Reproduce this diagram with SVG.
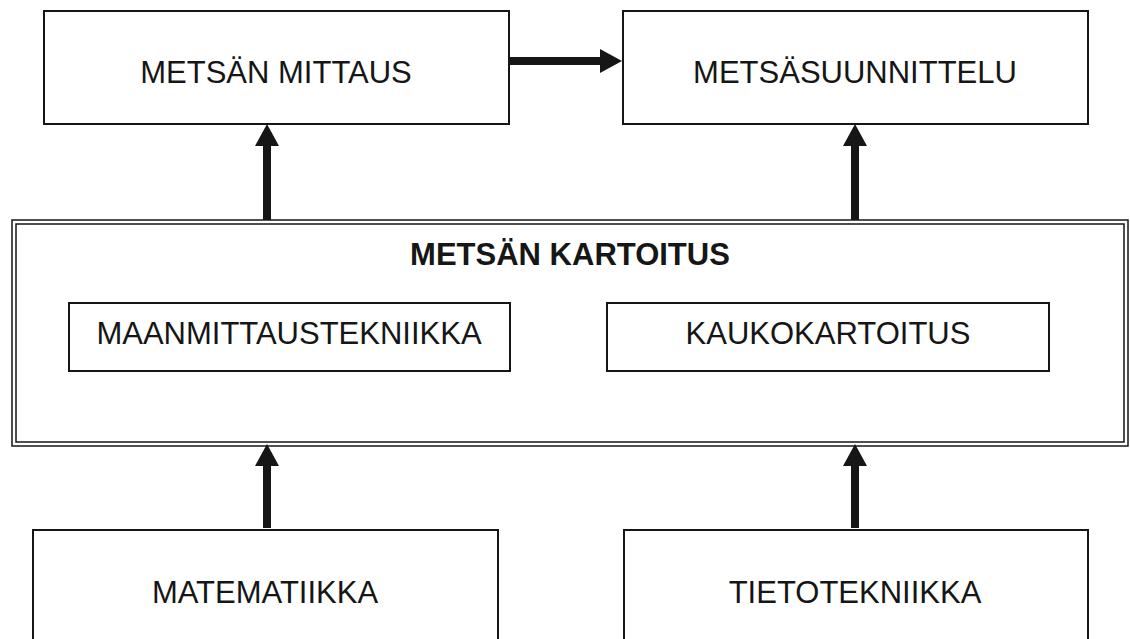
<svg xmlns="http://www.w3.org/2000/svg" width="1130" height="639" viewBox="0 0 1130 639">
  <style>
    .box { fill: #ffffff; stroke: #161616; stroke-width: 2; }
    .frame { fill: none; stroke: #161616; stroke-width: 1.5; }
    .lbl { font-family: "Liberation Sans", Arial, sans-serif; font-size: 31px; fill: #161616; text-anchor: middle; }
    .title { font-weight: bold; }
    .conn { stroke: #161616; stroke-width: 8; fill: none; marker-end: url(#head); }
  </style>
  <defs>
    <marker id="head" viewBox="0 0 22 24" refX="0" refY="12" markerWidth="22" markerHeight="24" markerUnits="userSpaceOnUse" orient="auto">
      <path d="M0,0 L22,12 L0,24 Z" fill="#161616"/>
    </marker>
  </defs>
  <rect width="1130" height="639" fill="#ffffff"/>

  <g id="metsan-mittaus">
    <rect class="box" x="44" y="11" width="465" height="113"/>
    <text class="lbl" x="276" y="83">METSÄN MITTAUS</text>
  </g>
  <g id="metsasuunnittelu">
    <rect class="box" x="623" y="11" width="465" height="113"/>
    <text class="lbl" x="855" y="83">METSÄSUUNNITTELU</text>
  </g>
  <g id="metsan-kartoitus">
    <rect class="frame" x="12" y="220" width="1116" height="226"/>
    <rect class="frame" x="16" y="224" width="1108" height="218"/>
    <text class="lbl title" x="570" y="265">METSÄN KARTOITUS</text>
  </g>
  <g id="maanmittaustekniikka">
    <rect class="box" x="69" y="303" width="441" height="68"/>
    <text class="lbl" x="289" y="344">MAANMITTAUSTEKNIIKKA</text>
  </g>
  <g id="kaukokartoitus">
    <rect class="box" x="607" y="303" width="442" height="68"/>
    <text class="lbl" x="828" y="344">KAUKOKARTOITUS</text>
  </g>
  <g id="matematiikka">
    <rect class="box" x="33" y="530" width="465" height="120"/>
    <text class="lbl" x="265" y="603">MATEMATIIKKA</text>
  </g>
  <g id="tietotekniikka">
    <rect class="box" x="624" y="530" width="464" height="120"/>
    <text class="lbl" x="855" y="603">TIETOTEKNIIKKA</text>
  </g>

  <g id="connectors">
    <line class="conn" x1="509" y1="61" x2="600" y2="61"/>
    <line class="conn" x1="267" y1="220" x2="267" y2="146"/>
    <line class="conn" x1="855" y1="220" x2="855" y2="146"/>
    <line class="conn" x1="267" y1="528" x2="267" y2="466"/>
    <line class="conn" x1="855" y1="528" x2="855" y2="466"/>
  </g>
</svg>
